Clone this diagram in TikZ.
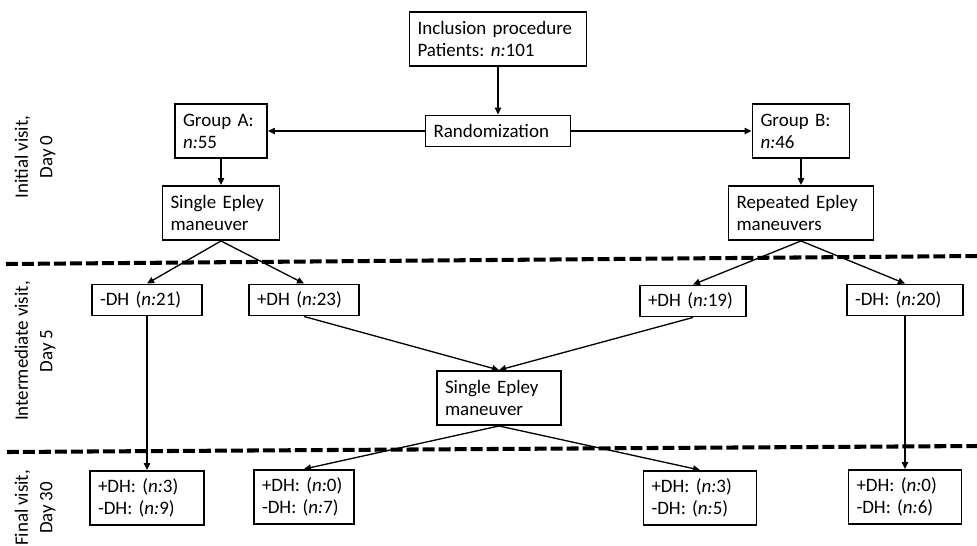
\documentclass[tikz,border=0pt]{standalone}
\usepackage{fontspec}
\setmainfont{Carlito}[WordSpace={0.85,0,0}]
\usetikzlibrary{arrows.meta,positioning}
\frenchspacing

\tikzset{
  box/.style={draw, line width=1.1pt, inner xsep=0.16cm, inner ysep=0pt, align=left,
    font=\fontsize{10.8}{12.6}\selectfont},
  twoline/.style={box, minimum height=1.08cm},
  oneline/.style={box, minimum height=0.62cm},
  flow/.style={-{Triangle[length=4pt,width=3.6pt]}, line width=0.75pt},
  visitline/.style={line width=2.3pt, dash pattern=on 6.8pt off 2.3pt},
  visit/.style={rotate=90, align=center, font=\fontsize{10.8}{14}\selectfont}
}

\begin{document}
\begin{tikzpicture}[x=0.02cm, y=-0.02cm]
  \useasboundingbox (0,0) rectangle (977,545);

  % day 0
  \node[twoline, text width=3.22cm] (incl) at (498,39) {Inclusion procedure\\Patients: \textit{n:}101};
  \node[oneline, text width=2.58cm] (rand) at (498,131) {Randomization};
  \node[twoline, text width=1.52cm] (grpA) at (221,131) {Group A:\\\textit{n:}55};
  \node[twoline, text width=1.62cm] (grpB) at (801,131) {Group B:\\\textit{n:}46};
  \node[twoline, text width=2.02cm] (singleA) at (221,213) {Single Epley\\maneuver};
  \node[twoline, text width=2.58cm] (repB) at (801,213) {Repeated Epley\\maneuvers};

  % day 5
  \node[oneline, text width=1.88cm] (minusA) at (147,300) {-DH (\textit{n:}21)};
  \node[oneline, text width=1.88cm] (plusA) at (304,300) {+DH (\textit{n:}23)};
  \node[oneline, text width=1.80cm] (plusB) at (693,301) {+DH (\textit{n:}19)};
  \node[oneline, text width=2.00cm] (minusB) at (905,300) {-DH: (\textit{n:}20)};
  \node[twoline, text width=2.16cm] (singleMid) at (499,398) {Single Epley\\maneuver};

  % day 30
  \node[twoline, text width=1.96cm] (finA) at (147,498) {+DH: (\textit{n:}3)\\-DH: (\textit{n:}9)};
  \node[twoline, text width=1.68cm] (finPA) at (304,497) {+DH: (\textit{n:}0)\\-DH: (\textit{n:}7)};
  \node[twoline, text width=1.94cm] (finPB) at (700,498) {+DH: (\textit{n:}3)\\-DH: (\textit{n:}5)};
  \node[twoline, text width=1.94cm] (finB) at (905,497) {+DH: (\textit{n:}0)\\-DH: (\textit{n:}6)};

  % visit labels
  \node[visit] (v0) at (35,157) {Initial visit,\\Day 0};
  \node[visit] (v5) at (35,351) {Intermediate visit,\\Day 5};
  \node[visit] (v30) at (35,508) {Final visit,\\Day 30};

  % separators
  \draw[visitline] (6,264) -- (977,256);
  \draw[visitline] (7,452) -- (977,446);

  % connectors
  \draw[flow] (incl) -- (rand);
  \draw[flow] (rand) -- (grpA);
  \draw[flow] (rand) -- (grpB);
  \draw[flow] (grpA) -- (singleA);
  \draw[flow] (grpB) -- (repB);
  \draw[flow] (singleA.south) -- (minusA.north);
  \draw[flow] (singleA.south) -- (plusA.north);
  \draw[flow] (repB.south) -- (plusB.north);
  \draw[flow] (repB.south) -- (minusB.north);
  \draw[flow] (minusA) -- (finA);
  \draw[flow] (plusA.south) -- (singleMid.north);
  \draw[flow] (plusB.south) -- (singleMid.north);
  \draw[flow] (singleMid.south) -- (finPA.north);
  \draw[flow] (singleMid.south) -- (finPB.north);
  \draw[flow] (minusB) -- (finB);
\end{tikzpicture}
\end{document}
